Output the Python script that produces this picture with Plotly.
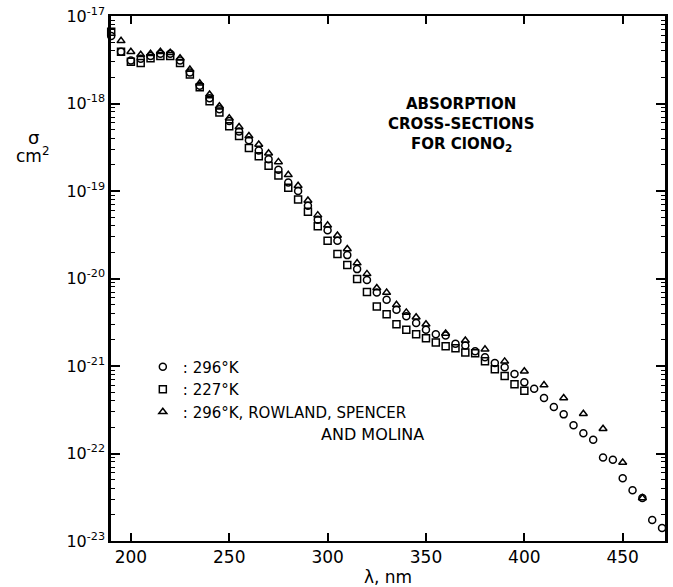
import plotly.graph_objects as go

# ---- data ----
wl_296 = [190, 195, 200, 205, 210, 215, 220, 225, 230, 235, 240, 245, 250, 255, 260, 265, 270, 275,
          280, 285, 290, 295, 300, 305, 310, 315, 320, 325, 330, 335, 340, 345, 350, 355, 360, 365,
          370, 375, 380, 385, 390, 395, 400, 405, 410, 415, 420, 425, 430, 435, 440, 445, 450, 455,
          460, 465, 470]
sig_296 = [5.9e-18, 3.9e-18, 3.1e-18, 3.25e-18, 3.5e-18, 3.7e-18, 3.7e-18, 3.1e-18, 2.26e-18, 1.6e-18,
           1.15e-18, 8.6e-19, 6.3e-19, 4.8e-19, 3.8e-19, 2.9e-19, 2.3e-19, 1.75e-19, 1.25e-19, 1.0e-19,
           6.8e-20, 4.7e-20, 3.55e-20, 2.7e-20, 1.85e-20, 1.28e-20, 9.6e-21, 6.9e-21, 5.7e-21, 4.4e-21,
           3.7e-21, 3.1e-21, 2.6e-21, 2.3e-21, 2.23e-21, 1.8e-21, 1.72e-21, 1.47e-21, 1.26e-21, 1.08e-21,
           9.7e-22, 8.1e-22, 6.5e-22, 5.5e-22, 4.3e-22, 3.4e-22, 2.8e-22, 2.1e-22, 1.7e-22, 1.44e-22,
           9.0e-23, 8.5e-23, 5.2e-23, 3.8e-23, 3.1e-23, 1.74e-23, 1.41e-23]

wl_227 = [190, 195, 200, 205, 210, 215, 220, 225, 230, 235, 240, 245, 250, 255, 260, 265, 270, 275,
          280, 285, 290, 295, 300, 305, 310, 315, 320, 325, 330, 335, 340, 345, 350, 355, 360, 365,
          370, 375, 380, 385, 390, 395, 400]
sig_227 = [6.6e-18, 3.9e-18, 3.0e-18, 2.9e-18, 3.3e-18, 3.5e-18, 3.5e-18, 2.9e-18, 2.15e-18, 1.53e-18,
           1.06e-18, 7.9e-19, 5.5e-19, 4.25e-19, 3.1e-19, 2.5e-19, 1.94e-19, 1.5e-19, 1.09e-19, 8.0e-20,
           5.8e-20, 3.95e-20, 2.7e-20, 1.9e-20, 1.43e-20, 9.9e-21, 7.0e-21, 4.8e-21, 3.9e-21, 3.0e-21,
           2.6e-21, 2.3e-21, 2.07e-21, 1.86e-21, 1.68e-21, 1.6e-21, 1.43e-21, 1.4e-21, 1.13e-21, 9.2e-22,
           7.7e-22, 6.2e-22, 5.2e-22]

wl_rsm = [195, 200, 205, 210, 215, 220, 225, 230, 235, 240, 245, 250, 255, 260, 265, 270, 275, 280,
          285, 290, 295, 300, 305, 310, 315, 320, 325, 330, 335, 340, 345, 350, 360, 370, 380, 390,
          400, 410, 420, 430, 440, 450, 460]
sig_rsm = [5.2e-18, 3.9e-18, 3.6e-18, 3.7e-18, 3.9e-18, 3.8e-18, 3.3e-18, 2.44e-18, 1.7e-18, 1.27e-18,
           9.3e-19, 6.8e-19, 5.4e-19, 4.25e-19, 3.4e-19, 2.7e-19, 2.15e-19, 1.53e-19, 1.15e-19, 7.8e-20,
           5.3e-20, 4.05e-20, 3.1e-20, 2.17e-20, 1.5e-20, 1.13e-20, 7.8e-21, 6.9e-21, 5.0e-21, 4.1e-21,
           3.6e-21, 3.0e-21, 2.35e-21, 1.96e-21, 1.55e-21, 1.13e-21, 8.7e-22, 6.05e-22, 4.3e-22, 2.85e-22,
           1.92e-22, 7.9e-23, 3.1e-23]

x_ticks = [200, 250, 300, 350, 400, 450]
y_exps = [-23, -22, -21, -20, -19, -18, -17]

names = [": 296°K", ": 227°K", ": 296°K, ROWLAND, SPENCER"]

FONT = "DejaVu Sans"

fig = go.Figure()
series = [(wl_296, sig_296, "circle-open"),
          (wl_227, sig_227, "square-open"),
          (wl_rsm, sig_rsm, "triangle-up-open")]
for (xs, ys, sym), nm in zip(series, names):
    fig.add_trace(go.Scatter(
        x=xs, y=ys, mode="markers", name=nm, cliponaxis=False,
        marker=dict(symbol=sym, size=7, color="black", line=dict(color="black", width=1.5)),
    ))

y_tickvals = [10.0 ** e for e in y_exps]
y_ticktext = ["10<sup>%d</sup>" % e for e in y_exps]
y_minor = [m * 10.0 ** e for e in y_exps[:-1] for m in range(2, 10)]

fig.update_xaxes(
    range=[189.9, 471.5], tickmode="array", tickvals=x_ticks,
    ticks="inside", ticklen=8, tickwidth=1.5, tickcolor="black",
    showline=True, linewidth=2, linecolor="black", mirror="ticks",
    showgrid=False, zeroline=False,
    tickfont=dict(family=FONT, size=17, color="black"),
    title=dict(text="λ, nm", font=dict(family=FONT, size=17, color="black"), standoff=2),
)
fig.update_yaxes(
    type="log", range=[-23, -17], tickmode="array", tickvals=y_tickvals, ticktext=y_ticktext,
    ticks="inside", ticklen=9, tickwidth=1.5, tickcolor="black",
    minor=dict(tickmode="array", tickvals=y_minor, ticks="inside", ticklen=4,
               tickwidth=1.2, tickcolor="black", showgrid=False),
    showline=True, linewidth=2.5, linecolor="black", mirror="ticks",
    showgrid=False, zeroline=False,
    tickfont=dict(family=FONT, size=16, color="black"),
)

W, H = 673, 587
L, R, T, B = 111, 5, 12, 46
pw, ph = W - L - R, H - T - B


def px(xp):
    return (xp - L) / pw


def py(yp):
    return (H - B - yp) / ph


ann = [
    dict(text="σ", x=px(33), y=py(134), size=18, bold=False),
    dict(text="cm<sup>2</sup>", x=px(33), y=py(152), size=17, bold=False),
    dict(text="ABSORPTION", x=px(463), y=py(101), size=15, bold=True),
    dict(text="CROSS-SECTIONS", x=px(463), y=py(121), size=15, bold=True),
    dict(text="FOR ClONO<sub>2</sub>", x=px(463), y=py(141), size=15, bold=True),
    dict(text="AND MOLINA", x=px(374), y=py(434), size=16, bold=False),
]
for a in ann:
    fig.add_annotation(
        text=("<b>%s</b>" % a["text"]) if a["bold"] else a["text"],
        x=a["x"], y=a["y"], xref="paper", yref="paper",
        xanchor="center", yanchor="middle", showarrow=False,
        font=dict(family=FONT, size=a["size"], color="black"),
    )

fig.update_layout(
    width=W, height=H,
    margin=dict(l=L, r=R, t=T, b=B),
    paper_bgcolor="white", plot_bgcolor="white",
    showlegend=True,
    legend=dict(x=px(143), y=py(349), xanchor="left", yanchor="top",
                bgcolor="rgba(0,0,0,0)", borderwidth=0,
                font=dict(family=FONT, size=15, color="black"),
                tracegroupgap=0, itemwidth=30),
)

fig.write_html("out.html")
